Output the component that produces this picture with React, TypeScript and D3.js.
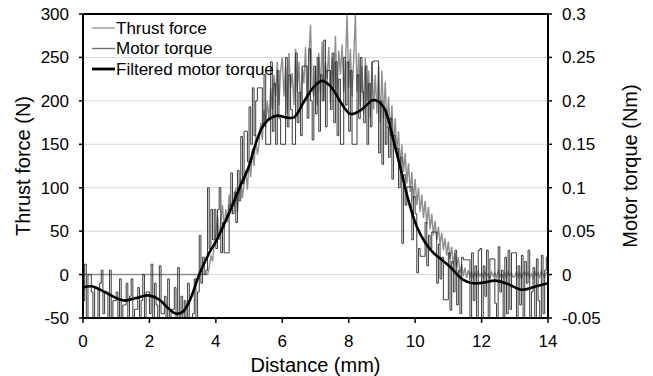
import React from 'react';
import * as d3 from 'd3';

const STEP = 0.05; // mm between samples
const xTicks = [0, 2, 4, 6, 8, 10, 12, 14];
const leftTicks = [-50, 0, 50, 100, 150, 200, 250, 300];
const rightTicks = [-0.05, 0, 0.05, 0.1, 0.15, 0.2, 0.25, 0.3];
const rightTickLabels = ['-0.05', '0', '0.05', '0.1', '0.15', '0.2', '0.25', '0.3'];

// Thrust force (N), sampled every 0.05 mm from 0 to 14 mm
const thrustForce = [
  0, 0, 0, 0, 0, 0, 0, 0, 0, 0, 0, 0, 0, 0, 0, 0, 0, 0, 0, 0,
  0, 0, 0, 0, 0, 0, 0, 0, 0, 0, 0, 0, 0, 0, 0, 0, 0, 0, 0, 0,
  0, 0, 0, 0, 0, 0, 0, 0, 0, 0, 0, 0, 0, 0, 0, 0, 0, 0, 0, 0,
  0, 0, 0, 0, 0, 0, 0, 0, 0, 0, 0, 0, 0, 0, 0, 0, 8, 22, 15, 35,
  45, 68, 40, 62, 80, 52, 75, 60, 92, 70, 85, 78, 100, 72, 95, 110, 88, 105, 120, 98,
  130, 112, 145, 125, 160, 138, 150, 175, 155, 190, 170, 200, 178, 215, 190, 230, 205, 245, 195, 235,
  250, 205, 240, 185, 255, 215, 232, 195, 260, 210, 245, 190, 238, 220, 262, 200, 250, 288, 215, 205,
  240, 195, 255, 210, 268, 200, 245, 225, 262, 198, 250, 215, 275, 205, 258, 230, 265, 210, 240, 300,
  215, 260, 205, 248, 300, 210, 255, 195, 240, 185, 250, 200, 235, 180, 245, 190, 230, 185, 240, 175,
  235, 180, 222, 170, 205, 160, 195, 148, 180, 140, 165, 125, 150, 118, 140, 105, 128, 95, 118, 85,
  110, 80, 100, 72, 92, 65, 85, 58, 78, 52, 70, 45, 62, 40, 55, 35, 48, 28, 42, 22,
  38, 18, 32, 12, 25, 8, 20, 2, 12, -2, 8, -4, 5, -3, 3, -4, 2, -3, 3, -2,
  2, -3, 3, -2, 1, -4, 3, -2, 2, -3, 4, -2, 1, -3, 2, -4, 3, -1, 2, -3,
  -2, 3, -3, 2, -4, 1, 3, -2, 2, -3, 1, -4, 3, -2, 2, -3, 4, -1, -3, 2,
  0,
];

// Motor torque (Nm), sampled every 0.05 mm from 0 to 14 mm
const motorTorque = [
  -0.03, 0.012, -0.05, 0, 0, -0.02, -0.05, -0.015, -0.015, -0.05, -0.01, 0.005, -0.045, -0.02, -0.02, -0.05, 0.005, -0.05, -0.03, -0.03,
  -0.02, -0.05, -0.005, -0.05, -0.035, -0.035, -0.01, -0.05, -0.025, -0.005, -0.05, -0.04, -0.04, -0.015, -0.05, -0.03, 0, -0.05, -0.02, -0.02,
  -0.045, 0.012, -0.05, -0.01, -0.035, -0.05, 0.01, -0.045, -0.045, -0.025, -0.05, -0.005, -0.05, -0.04, -0.04, -0.015, -0.05, 0.008, -0.05, -0.025,
  -0.05, -0.03, -0.05, -0.01, -0.05, -0.05, -0.045, -0.005, -0.05, -0.02, 0.045, -0.01, 0.02, 0, 0.005, 0.1, 0.03, 0.075, 0.04, 0.075,
  0.03, 0.075, 0.1, 0.025, 0.06, 0.025, 0.025, 0.025, 0.08, 0.117, 0.07, 0.095, 0.06, 0.12, 0.085, 0.159, 0.105, 0.165, 0.165, 0.13,
  0.193, 0.15, 0.215, 0.16, 0.2, 0.215, 0.215, 0.215, 0.17, 0.23, 0.15, 0.15, 0.15, 0.245, 0.165, 0.22, 0.15, 0.235, 0.18, 0.15,
  0.15, 0.15, 0.25, 0.17, 0.23, 0.19, 0.15, 0.15, 0.255, 0.175, 0.21, 0.16, 0.24, 0.24, 0.24, 0.18, 0.26, 0.2, 0.155, 0.24,
  0.185, 0.25, 0.165, 0.23, 0.2, 0.27, 0.17, 0.235, 0.235, 0.19, 0.255, 0.175, 0.245, 0.16, 0.225, 0.15, 0.15, 0.25, 0.195, 0.245,
  0.165, 0.235, 0.15, 0.15, 0.15, 0.23, 0.18, 0.25, 0.21, 0.175, 0.24, 0.15, 0.22, 0.17, 0.245, 0.246, 0.246, 0.246, 0.14, 0.2,
  0.127, 0.19, 0.15, 0.17, 0.135, 0.18, 0.11, 0.16, 0.145, 0.145, 0.1, 0.135, 0.036, 0.115, 0.08, 0.101, 0.101, 0.101, 0.04, 0.09,
  0.07, 0.002, 0.03, 0.021, 0.021, 0.021, 0.06, 0.01, 0.045, 0.03, 0.049, 0.049, 0.049, -0.01, 0.035, -0.005, 0.02, -0.029, -0.029, -0.029,
  0.025, -0.041, 0.015, -0.02, 0.028, -0.035, 0.005, -0.045, 0.02, 0.017, 0.017, 0.017, 0.017, -0.05, 0.025, -0.03, 0.01, -0.05, 0.028, 0.03,
  -0.05, 0.01, -0.025, 0.028, -0.05, 0.018, 0.018, 0.018, -0.033, -0.05, 0.032, -0.02, 0.005, -0.05, 0.02, -0.045, 0.028, -0.04, 0.025, 0.025,
  0.025, -0.05, 0.01, -0.035, 0.022, -0.05, 0.015, -0.01, 0.028, -0.05, -0.02, 0.008, -0.05, 0.018, -0.03, -0.05, 0.022, -0.045, 0.005, 0.02,
  0,
];

// Filtered motor torque (Nm) at distances (mm)
const filteredDistance = [
  0, 0.25, 0.6, 1.0, 1.25, 1.6, 1.95, 2.3, 2.6, 2.8, 3.0, 3.2, 3.5, 3.8, 4.0, 4.25, 4.5, 4.75, 5.0, 5.15,
  5.4, 5.6, 5.85, 6.1, 6.35, 6.65, 6.95, 7.2, 7.45, 7.75, 8.05, 8.35, 8.75, 9.05, 9.35, 9.6, 9.8, 10.05, 10.3, 10.55,
  10.8, 11.05, 11.45, 11.75, 12.1, 12.4, 12.8, 13.2, 13.6, 14.0,
];
const filteredTorque = [
  -0.015, -0.0135, -0.019, -0.027, -0.03, -0.027, -0.024, -0.029, -0.04, -0.045, -0.043, -0.031, 0.0, 0.025, 0.038, 0.058, 0.08, 0.103, 0.125, 0.145,
  0.17, 0.179, 0.183, 0.181, 0.181, 0.199, 0.216, 0.223, 0.217, 0.199, 0.185, 0.189, 0.201, 0.193, 0.154, 0.116, 0.085, 0.055, 0.037, 0.025,
  0.017, 0.009, -0.006, -0.01, -0.009, -0.007, -0.011, -0.0175, -0.014, -0.01,
];

const legendNames = ['Thrust force', 'Motor torque', 'Filtered motor torque'];

const W = 653;
const H = 376;
const L = 83;
const R = 548;
const T = 14;
const B = 318;
const FONT = '"Liberation Sans", Arial, sans-serif';

export default function App() {
  const x = d3.scaleLinear().domain([0, 14]).range([L, R]);
  const yL = d3.scaleLinear().domain([-50, 300]).range([B, T]);
  const yR = d3.scaleLinear().domain([-0.05, 0.3]).range([B, T]);

  const thrustLine = d3
    .line<number>()
    .x((_, i) => x(i * STEP))
    .y((d) => yL(d))(thrustForce) || '';
  const motorLine = d3
    .line<number>()
    .x((_, i) => x(i * STEP))
    .y((d) => yR(d))
    .curve(d3.curveStepAfter)(motorTorque) || '';
  const filtLine = d3
    .line<number>()
    .x((_, i) => x(filteredDistance[i]))
    .y((d) => yR(d))
    .curve(d3.curveCatmullRom.alpha(0.5))(filteredTorque) || '';

  const legendStyles = [
    { stroke: '#a6a6a6', w: 1.6 },
    { stroke: '#707070', w: 1.4 },
    { stroke: '#000', w: 2.8 },
  ];

  return (
    <svg
      width={W}
      height={H}
      style={{ position: 'absolute', left: 0, top: 0, background: '#fff' }}
      fontFamily={FONT}
    >
      <defs>
        <clipPath id="plotClip">
          <rect x={L} y={T} width={R - L} height={B - T} />
        </clipPath>
      </defs>
      <rect x={0} y={0} width={W} height={H} fill="#fff" />
      {leftTicks
        .filter((t) => t > -50 && t < 300)
        .map((t) => (
          <line key={t} x1={L} x2={R} y1={yL(t)} y2={yL(t)} stroke="#d9d9d9" strokeWidth={1} />
        ))}
      <g clipPath="url(#plotClip)">
        <path d={thrustLine} fill="none" stroke="#8f8f8f" strokeWidth={1.4} />
        <path d={motorLine} fill="none" stroke="#262626" strokeWidth={0.9} />
        <path d={filtLine} fill="none" stroke="#000" strokeWidth={2.6} />
      </g>
      {/* frame */}
      <line x1={L} x2={R} y1={T} y2={T} stroke="#000" strokeWidth={2} />
      <line x1={L} x2={R} y1={B} y2={B} stroke="#000" strokeWidth={2} />
      <line x1={L} x2={L} y1={T} y2={B} stroke="#000" strokeWidth={2} />
      <line x1={R} x2={R} y1={T} y2={B} stroke="#000" strokeWidth={2} />
      {leftTicks.map((t) => (
        <g key={'l' + t}>
          <line x1={L - 4} x2={L} y1={yL(t)} y2={yL(t)} stroke="#000" strokeWidth={1.5} />
          <text x={L - 14} y={yL(t)} dy="0.35em" textAnchor="end" fontSize={17} fill="#000">
            {t}
          </text>
        </g>
      ))}
      {rightTicks.map((t, i) => (
        <g key={'r' + i}>
          <line x1={R} x2={R + 4} y1={yR(t)} y2={yR(t)} stroke="#000" strokeWidth={1.5} />
          <text x={R + 14} y={yR(t)} dy="0.35em" textAnchor="start" fontSize={17} fill="#000">
            {rightTickLabels[i]}
          </text>
        </g>
      ))}
      {xTicks.map((t) => (
        <g key={'x' + t}>
          <line x1={x(t)} x2={x(t)} y1={B} y2={B + 5} stroke="#000" strokeWidth={1.5} />
          <text x={x(t)} y={347} textAnchor="middle" fontSize={17} fill="#000">
            {t}
          </text>
        </g>
      ))}
      <text x={(L + R) / 2} y={372} textAnchor="middle" fontSize={20} fill="#000">
        Distance (mm)
      </text>
      <text
        transform={`translate(23,${(T + B) / 2}) rotate(-90)`}
        textAnchor="middle"
        dy="0.35em"
        fontSize={20}
        fill="#000"
      >
        Thrust force (N)
      </text>
      <text
        transform={`translate(630,${(T + B) / 2}) rotate(-90)`}
        textAnchor="middle"
        dy="0.35em"
        fontSize={20}
        fill="#000"
      >
        Motor torque (Nm)
      </text>
      {legendNames.map((n, i) => (
        <g key={n}>
          <line
            x1={92}
            x2={115}
            y1={28 + i * 20.5}
            y2={28 + i * 20.5}
            stroke={legendStyles[i].stroke}
            strokeWidth={legendStyles[i].w}
          />
          <text x={116} y={28 + i * 20.5} dy="0.35em" fontSize={17} fill="#000">
            {n}
          </text>
        </g>
      ))}
    </svg>
  );
}
